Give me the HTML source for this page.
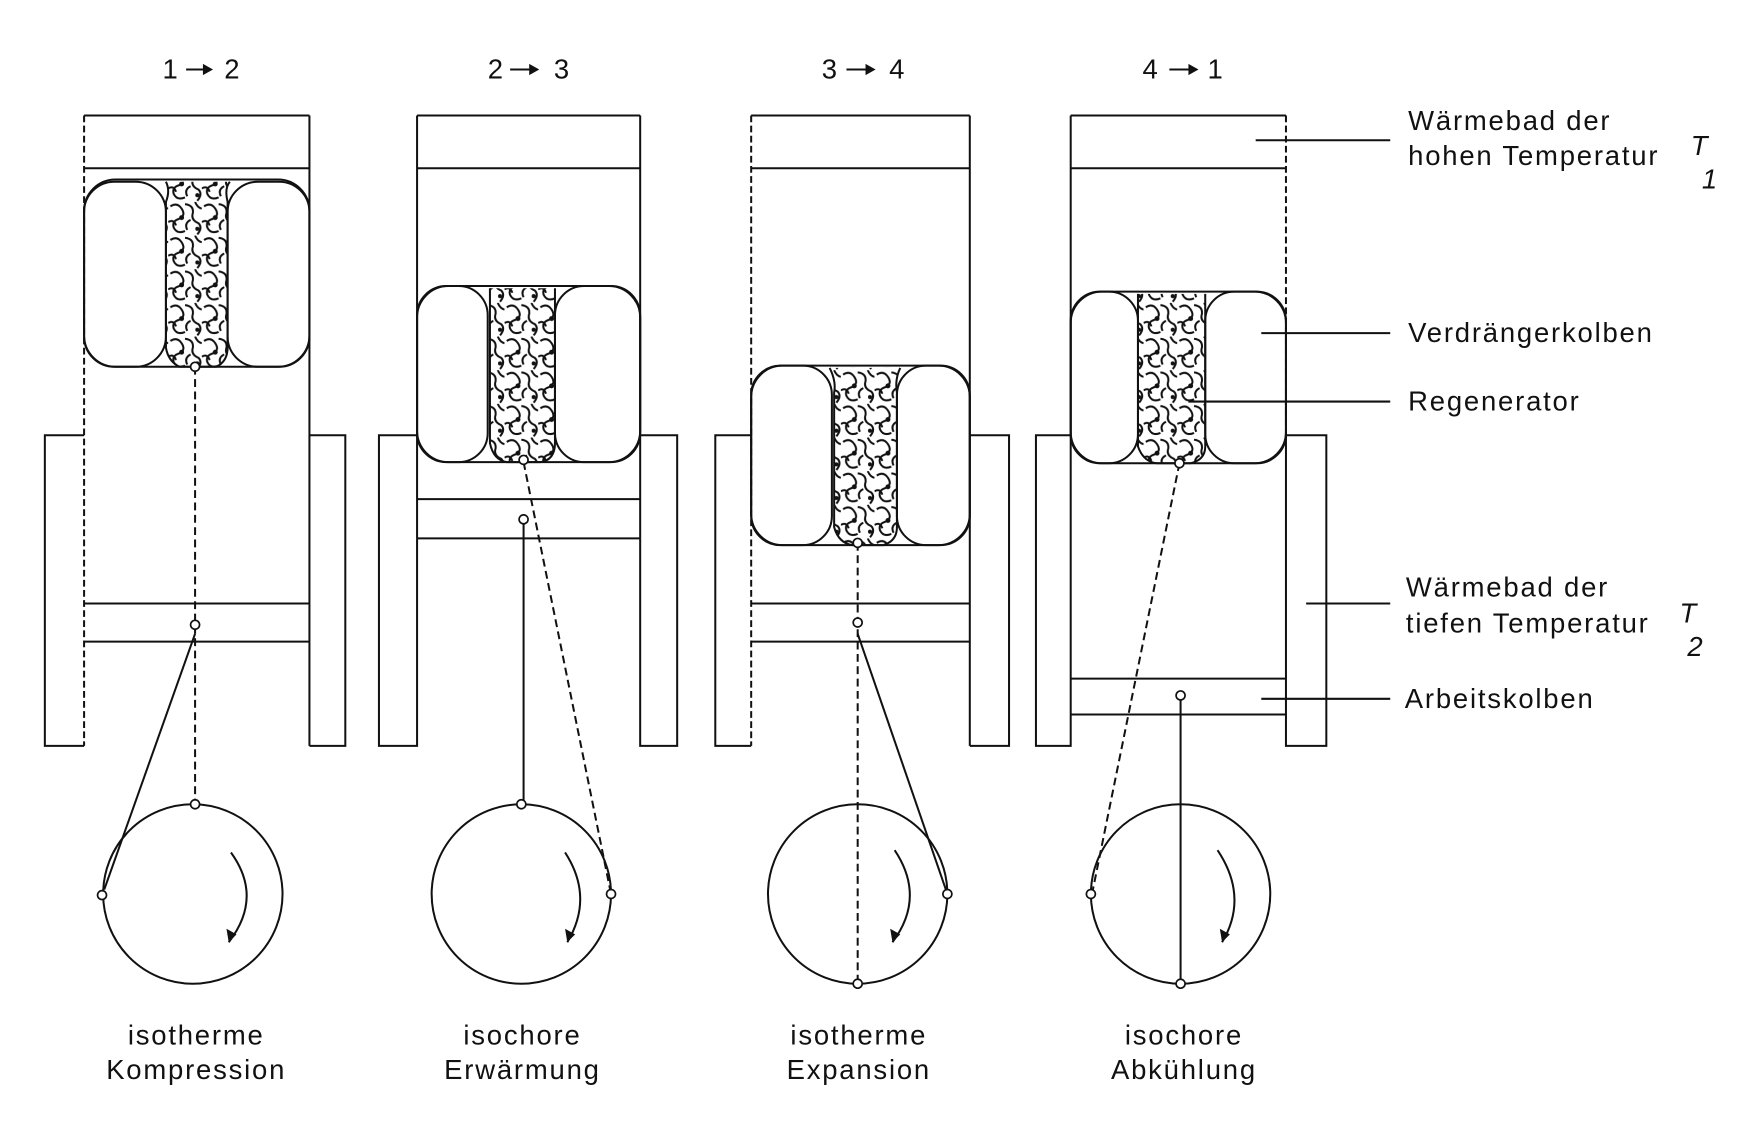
<!DOCTYPE html>
<html><head><meta charset="utf-8"><style>
html,body{margin:0;padding:0;background:#fff;}
svg{display:block;}
text{font-family:"Liberation Sans","DejaVu Sans",sans-serif;font-size:24.5px;fill:#111;letter-spacing:1.6px;}
</style></head><body>
<svg width="1749" height="1143" viewBox="0 0 1560 1019" preserveAspectRatio="none" xmlns="http://www.w3.org/2000/svg">
<defs>
<pattern id="rg" width="30" height="30" patternUnits="userSpaceOnUse">
<path d="M2 4 q6 -4 10 2 q4 6 -2 9 q-7 2 -5 8 q3 6 10 3 M15 2 q8 1 7 8 q-2 6 5 9 q4 4 -1 10 M20 16 q-6 3 -3 9 M0 18 q5 -3 7 3 M24 0 q2 5 6 6" fill="none" stroke="#111" stroke-width="1.8"/>
<circle cx="12" cy="14" r="2.2" fill="#111"/><circle cx="26" cy="24" r="1.8" fill="#111"/>
</pattern>
</defs>
<g fill="none" stroke="#111" stroke-width="1.8">
<line x1="75" y1="103" x2="276" y2="103"/><line x1="75" y1="150" x2="276" y2="150"/>
<line x1="75" y1="103" x2="75" y2="665" stroke-dasharray="6 3"/><line x1="276" y1="103" x2="276" y2="665"/>
<path d="M75 388 H40 V665 H75"/><path d="M276 388 H308 V665 H276"/>
<line x1="75" y1="538" x2="276" y2="538"/><line x1="75" y1="572" x2="276" y2="572"/>
<rect x="75" y="160" width="201" height="167" rx="28"/>
<path d="M148 162 Q152 170 148 180 V310 Q150 322 160 327 H193 Q203 322 203 310 V180 Q200 168 205 162" fill="url(#rg)"/>
<rect x="75" y="162" width="73" height="165" rx="27"/><rect x="203" y="162" width="73" height="165" rx="27"/>
<line x1="174" y1="327" x2="174" y2="717" stroke-dasharray="7 4"/>
<line x1="174" y1="565" x2="93" y2="793"/>
<circle cx="172" cy="797" r="80"/>
<path d="M206 760 Q235 800 204 840"/>
<line x1="372" y1="103" x2="571" y2="103"/><line x1="372" y1="150" x2="571" y2="150"/>
<line x1="372" y1="103" x2="372" y2="480"/><line x1="571" y1="103" x2="571" y2="480"/>
<path d="M372 388 H338 V665 H372 V480"/><path d="M571 388 H604 V665 H571 V480"/>
<line x1="372" y1="445" x2="571" y2="445"/><line x1="372" y1="480" x2="571" y2="480"/>
<path d="M437 257 V395 Q440 410 452 412 H482 Q495 410 495 395 V257" fill="url(#rg)"/>
<rect x="372" y="255" width="199" height="157" rx="28"/>
<rect x="372" y="255" width="63" height="157" rx="26"/><rect x="495" y="255" width="76" height="157" rx="26"/>
<line x1="467" y1="412" x2="545" y2="797" stroke-dasharray="7 4"/>
<line x1="467" y1="463" x2="467" y2="717"/>
<circle cx="465" cy="797" r="80"/>
<path d="M504 760 Q530 800 506 840"/>
<line x1="670" y1="103" x2="865" y2="103"/><line x1="670" y1="150" x2="865" y2="150"/>
<line x1="670" y1="103" x2="670" y2="665" stroke-dasharray="6 3"/><line x1="865" y1="103" x2="865" y2="665"/>
<path d="M670 388 H638 V665 H670"/><path d="M865 388 H900 V665 H865"/>
<line x1="670" y1="538" x2="865" y2="538"/><line x1="670" y1="572" x2="865" y2="572"/>
<path d="M740 328 Q746 340 744 350 V470 Q748 484 760 486 H788 Q800 482 800 470 V350 Q798 338 803 328" fill="url(#rg)"/>
<rect x="670" y="326" width="195" height="160" rx="28"/>
<rect x="670" y="326" width="72" height="160" rx="26"/><rect x="800" y="326" width="65" height="160" rx="26"/>
<line x1="765" y1="484" x2="765" y2="877" stroke-dasharray="7 4"/>
<line x1="765" y1="565" x2="845" y2="797"/>
<circle cx="765" cy="797" r="80"/>
<path d="M798 758 Q826 800 796 840"/>
<line x1="955" y1="103" x2="1147" y2="103"/><line x1="955" y1="150" x2="1147" y2="150"/>
<line x1="955" y1="103" x2="955" y2="637"/><line x1="1147" y1="103" x2="1147" y2="388" stroke-dasharray="6 3"/>
<path d="M955 388 H924 V665 H955 V637"/><path d="M1147 388 H1183 V665 H1147 V388"/>
<line x1="955" y1="605" x2="1147" y2="605"/><line x1="955" y1="637" x2="1147" y2="637"/>
<path d="M1015 262 V398 Q1020 412 1032 413 H1062 Q1075 410 1075 398 V262" fill="url(#rg)"/>
<rect x="955" y="260" width="192" height="153" rx="28"/>
<rect x="955" y="260" width="60" height="153" rx="26"/><rect x="1075" y="260" width="72" height="153" rx="26"/>
<line x1="1052" y1="413" x2="974" y2="797" stroke-dasharray="7 4"/>
<line x1="1053" y1="620" x2="1053" y2="877"/>
<circle cx="1053" cy="797" r="80"/>
<path d="M1086 758 Q1114 800 1090 840"/>
<line x1="1120" y1="125" x2="1240" y2="125"/>
<line x1="1125" y1="297" x2="1240" y2="297"/>
<line x1="1060" y1="358" x2="1240" y2="358"/>
<line x1="1165" y1="538" x2="1240" y2="538"/>
<line x1="1125" y1="623" x2="1240" y2="623"/>
<line x1="166" y1="62" x2="182" y2="62"/><line x1="455" y1="62" x2="473" y2="62"/><line x1="755" y1="62" x2="773" y2="62"/><line x1="1043" y1="62" x2="1061" y2="62"/>
</g>
<g fill="#111">
<path d="M204 840 l-2 -12 l9 5z"/><path d="M506 840 l-2 -12 l9 5z"/><path d="M796 840 l-2 -12 l9 5z"/><path d="M1090 840 l-2 -12 l9 5z"/>
<path d="M190 62 l-9 -5 v10z"/><path d="M481 62 l-9 -5 v10z"/><path d="M781 62 l-9 -5 v10z"/><path d="M1069 62 l-9 -5 v10z"/>
</g>
<g fill="#fff" stroke="#111" stroke-width="1.5">
<circle cx="174" cy="327" r="4"/><circle cx="174" cy="557" r="4"/><circle cx="174" cy="717" r="4"/><circle cx="91" cy="798" r="4"/>
<circle cx="467" cy="410" r="4"/><circle cx="467" cy="463" r="4"/><circle cx="465" cy="717" r="4"/><circle cx="545" cy="797" r="4"/>
<circle cx="765" cy="484" r="4"/><circle cx="765" cy="555" r="4"/><circle cx="845" cy="797" r="4"/><circle cx="765" cy="877" r="4"/>
<circle cx="1052" cy="413" r="4"/><circle cx="1053" cy="620" r="4"/><circle cx="973" cy="797" r="4"/><circle cx="1053" cy="877" r="4"/>
</g>
<text x="145" y="70">1</text><text x="200" y="70">2</text>
<text x="435" y="70">2</text><text x="494" y="70">3</text>
<text x="733" y="70">3</text><text x="793" y="70">4</text>
<text x="1019" y="70">4</text><text x="1077" y="70">1</text>
<g text-anchor="middle">
<text x="175" y="931">isotherme</text><text x="175" y="962">Kompression</text>
<text x="466" y="931">isochore</text><text x="466" y="962">Erwärmung</text>
<text x="766" y="931">isotherme</text><text x="766" y="962">Expansion</text>
<text x="1056" y="931">isochore</text><text x="1056" y="962">Abkühlung</text>
</g>
<text x="1256" y="116">Wärmebad der</text>
<text x="1256" y="147">hohen Temperatur</text>
<text x="1508" y="138" font-size="14" font-style="italic">T</text>
<text x="1518" y="168" font-size="30" font-style="italic">1</text>
<text x="1256" y="305">Verdrängerkolben</text>
<text x="1256" y="366">Regenerator</text>
<text x="1254" y="532">Wärmebad der</text>
<text x="1254" y="564">tiefen Temperatur</text>
<text x="1498" y="555" font-size="14" font-style="italic">T</text>
<text x="1505" y="585" font-size="30" font-style="italic">2</text>
<text x="1253" y="631">Arbeitskolben</text>
</svg>
</body></html>
